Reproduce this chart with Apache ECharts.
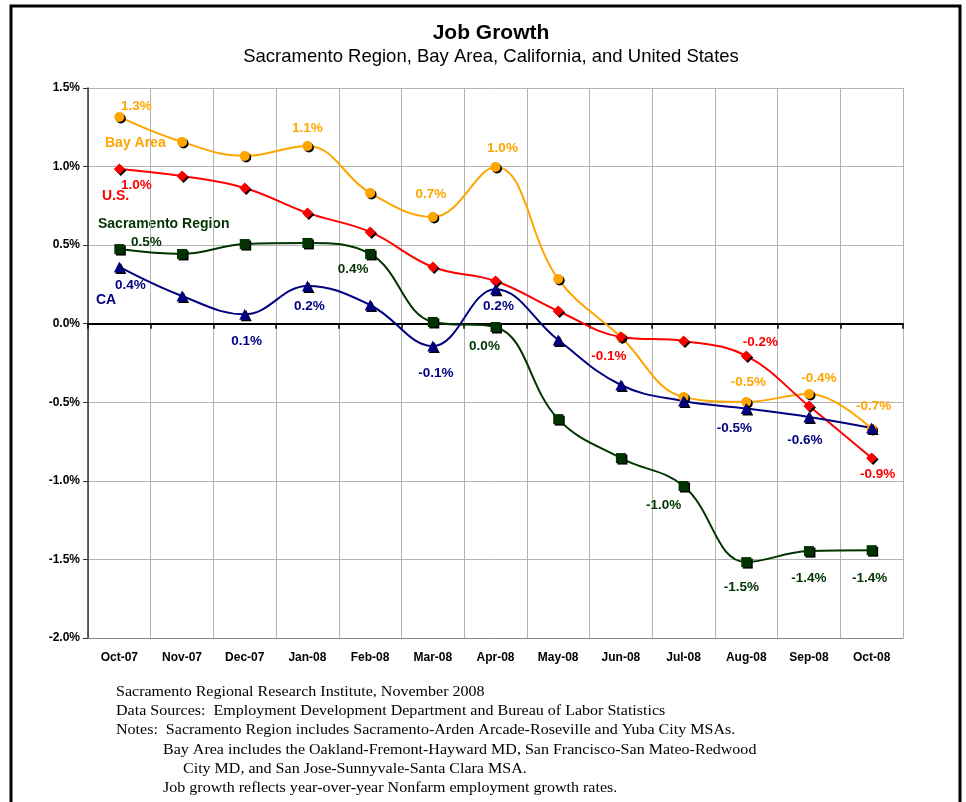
<!DOCTYPE html>
<html>
<head>
<meta charset="utf-8">
<script src="https://cdn.jsdelivr.net/npm/echarts@6/dist/echarts.min.js"></script>
<style>
  html, body { margin: 0; padding: 0; background: #fff; }
  #chart { width: 966px; height: 802px; }
</style>
</head>
<body>
<div id="chart"></div>
<script>
const months = ["Oct-07", "Nov-07", "Dec-07", "Jan-08", "Feb-08", "Mar-08", "Apr-08",
  "May-08", "Jun-08", "Jul-08", "Aug-08", "Sep-08", "Oct-08"];

// year-over-year job growth, %
const bayArea = [1.316, 1.157, 1.067, 1.131, 0.832, 0.679, 0.997, 0.284, -0.085, -0.467, -0.498, -0.447, -0.670];
const us = [0.985, 0.940, 0.864, 0.705, 0.584, 0.361, 0.272, 0.081, -0.085, -0.110, -0.205, -0.524, -0.855];
const sacramento = [0.475, 0.444, 0.507, 0.514, 0.444, 0.011, -0.021, -0.607, -0.855, -1.033, -1.517, -1.447, -1.441];
const ca = [0.361, 0.176, 0.06, 0.240, 0.119, -0.142, 0.220, -0.104, -0.390, -0.492, -0.540, -0.594, -0.664];

const footer = [
  "Sacramento Regional Research Institute, November 2008",
  "Data Sources:  Employment Development Department and Bureau of Labor Statistics",
  "Notes:  Sacramento Region includes Sacramento-Arden Arcade-Roseville and Yuba City MSAs.",
  "Bay Area includes the Oakland-Fremont-Hayward MD, San Francisco-San Mateo-Redwood",
  "City MD, and San Jose-Sunnyvale-Santa Clara MSA.",
  "Job growth reflects year-over-year Nonfarm employment growth rates."
];

// which points get a value label, and where (offset from the point)
const bayLabelAt = { 0: [17, -11], 3: [0, -18], 5: [-2, -23], 6: [7, -19], 10: [2, -20], 11: [10, -16], 12: [2, -23] };
const usLabelAt = { 0: [17, 16], 8: [-12, 19], 10: [14, -14], 12: [6, 16] };
const sacLabelAt = { 0: [27, -7], 4: [-17, 15], 6: [-11, 19], 9: [-20, 19], 10: [-5, 25], 11: [0, 27], 12: [-2, 28] };
const caLabelAt = { 0: [11, 18], 2: [2, 27], 3: [2, 20], 5: [3, 27], 6: [3, 17], 10: [-12, 20], 11: [-4, 23] };

const fmt = (v) => (Math.round(v * 10) / 10).toFixed(1) + "%";

function buildData(values, labelAt, color) {
  return values.map((v, i) => {
    if (!labelAt[i]) return v;
    return {
      value: v,
      label: {
        show: true,
        position: "inside",
        offset: labelAt[i],
        formatter: (p) => fmt(p.value),
        color: color,
        fontFamily: "Liberation Sans, Arial",
        fontWeight: "bold",
        fontSize: 13.5
      }
    };
  });
}

function makeSeries(name, values, labelAt, color, symbol, size) {
  return {
    name: name,
    type: "line",
    data: buildData(values, labelAt, color),
    smooth: 0.4,
    symbol: symbol,
    symbolSize: size,
    lineStyle: { color: color, width: 2 },
    itemStyle: {
      color: color,
      shadowColor: "#000",
      shadowBlur: 0,
      shadowOffsetX: 1.5,
      shadowOffsetY: 1.5
    },
    z: 3
  };
}

const chart = echarts.init(document.getElementById("chart"));

const seriesNameStyle = (text, x, y, color) => ({
  type: "text",
  left: x,
  top: y,
  style: {
    text: text,
    fill: color,
    font: "bold 14px Liberation Sans, Arial"
  }
});

chart.setOption({
  backgroundColor: "#fff",
  animation: false,
  title: {
    text: "Job Growth",
    subtext: "Sacramento Region, Bay Area, California, and United States",
    left: 486,
    textAlign: "center",
    top: 18,
    itemGap: 3,
    textStyle: { fontFamily: "Liberation Sans, Arial", fontWeight: "bold", fontSize: 21, color: "#000" },
    subtextStyle: { fontFamily: "Liberation Sans, Arial", fontSize: 18.5, color: "#000" }
  },
  grid: { left: 88, right: 63, top: 88, bottom: 164, containLabel: false },
  xAxis: [
    {
      type: "category",
      data: months,
      boundaryGap: true,
      axisLine: { onZero: false, lineStyle: { color: "#888", width: 1 } },
      axisTick: { show: false },
      splitLine: { show: true, interval: 0, lineStyle: { color: "#b3b3b3", width: 1 } },
      axisLabel: {
        interval: 0,
        margin: 14,
        color: "#000",
        fontFamily: "Liberation Sans, Arial",
        fontWeight: "bold",
        fontSize: 12
      }
    },
    {
      type: "category",
      data: months,
      position: "bottom",
      boundaryGap: true,
      axisLine: { onZero: true, lineStyle: { color: "#000", width: 2 } },
      axisTick: { show: true, interval: 0, length: 5, lineStyle: { color: "#000", width: 1.5 } },
      axisLabel: { show: false },
      splitLine: { show: false },
      z: 2
    }
  ],
  yAxis: {
    type: "value",
    min: -2.0,
    max: 1.5,
    interval: 0.5,
    axisLine: { show: true, lineStyle: { color: "#333", width: 1.5 } },
    axisTick: { show: true, length: 5, lineStyle: { color: "#333" } },
    splitLine: { show: true, lineStyle: { color: "#b3b3b3", width: 1 } },
    axisLabel: {
      formatter: (v) => v.toFixed(1) + "%",
      color: "#000",
      margin: 8,
      fontFamily: "Liberation Sans, Arial",
      fontWeight: "bold",
      fontSize: 12
    }
  },
  series: [
    makeSeries("Bay Area", bayArea, bayLabelAt, "#FFA500", "circle", 10),
    makeSeries("U.S.", us, usLabelAt, "#FF0000", "diamond", 11),
    makeSeries("Sacramento Region", sacramento, sacLabelAt, "#003300", "rect", 10),
    makeSeries("CA", ca, caLabelAt, "#000080", "triangle", 11)
  ],
  graphic: [
    {
      type: "rect",
      shape: { x: 11, y: 6, width: 949, height: 830 },
      style: { fill: "none", stroke: "#000", lineWidth: 3 },
      silent: true
    },
    seriesNameStyle("Bay Area", 105, 136, "#FFA500"),
    seriesNameStyle("U.S.", 102, 189, "#FF0000"),
    seriesNameStyle("Sacramento Region", 98, 217, "#003300"),
    seriesNameStyle("CA", 96, 293, "#000080"),
    ...footer.map((line, i) => ({
      type: "text",
      x: i === 3 || i === 5 ? 163 : (i === 4 ? 183 : 116),
      y: 685 + i * 19.3,
      scaleX: 1.145,
      style: { text: line, fill: "#000", font: "14px Liberation Serif, Times New Roman" }
    }))
  ]
});
</script>
</body>
</html>
